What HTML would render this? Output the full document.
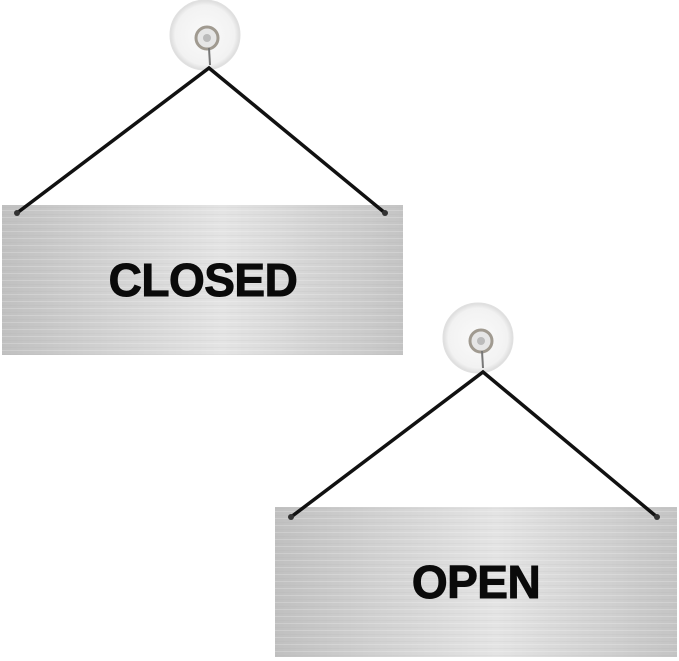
<!DOCTYPE html>
<html><head><meta charset="utf-8"><style>html,body{margin:0;padding:0;background:#fff;width:679px;height:661px;overflow:hidden}</style></head>
<body>
<svg width="679" height="661" viewBox="0 0 679 661" xmlns="http://www.w3.org/2000/svg">
<defs>
<linearGradient id="m" x1="0" y1="0" x2="1" y2="0">
<stop offset="0" stop-color="#c0c0c0"/>
<stop offset="0.3" stop-color="#d4d4d4"/>
<stop offset="0.55" stop-color="#e4e4e4"/>
<stop offset="0.8" stop-color="#d2d2d2"/>
<stop offset="1" stop-color="#c4c4c4"/>
</linearGradient>
<pattern id="l" width="6" height="7" patternUnits="userSpaceOnUse">
<rect width="6" height="1" fill="#ffffff" opacity="0.2"/>
<rect y="4" width="6" height="1" fill="#999" opacity="0.08"/>
</pattern>
<radialGradient id="c" cx="0.5" cy="0.5" r="0.5">
<stop offset="0" stop-color="#fafafa"/>
<stop offset="0.85" stop-color="#f2f2f2"/>
<stop offset="1" stop-color="#dcdcdc"/>
</radialGradient>
</defs>
<g>
<rect x="2" y="205" width="401" height="150" fill="url(#m)"/>
<rect x="2" y="205" width="401" height="150" fill="url(#l)"/>
<circle cx="205" cy="35" r="35" fill="url(#c)" stroke="#e0e0e0"/>
<circle cx="207" cy="38" r="11" fill="#e6e6e6" stroke="#a09a90" stroke-width="3"/>
<circle cx="207" cy="38" r="4" fill="#bbb"/>
<line x1="209" y1="48" x2="210" y2="65" stroke="#777" stroke-width="2"/>
<polyline points="17,213 209,68 385,213" fill="none" stroke="#111" stroke-width="3.5"/>
<circle cx="17" cy="213" r="3" fill="#333"/>
<circle cx="385" cy="213" r="3" fill="#333"/>
<text x="203" y="296" text-anchor="middle" font-family="Liberation Sans, sans-serif" font-weight="bold" font-size="46" fill="#0a0a0a" stroke="#0a0a0a" stroke-width="1" letter-spacing="-0.5">CLOSED</text>
</g>
<g>
<rect x="275" y="507" width="402" height="150" fill="url(#m)"/>
<rect x="275" y="507" width="402" height="150" fill="url(#l)"/>
<circle cx="478" cy="338" r="35" fill="url(#c)" stroke="#e0e0e0"/>
<circle cx="481" cy="341" r="11" fill="#e6e6e6" stroke="#a09a90" stroke-width="3"/>
<circle cx="481" cy="341" r="4" fill="#bbb"/>
<line x1="482" y1="351" x2="483" y2="368" stroke="#777" stroke-width="2"/>
<polyline points="291,517 483,372 657,517" fill="none" stroke="#111" stroke-width="3.5"/>
<circle cx="291" cy="517" r="3" fill="#333"/>
<circle cx="657" cy="517" r="3" fill="#333"/>
<text x="476" y="598" text-anchor="middle" font-family="Liberation Sans, sans-serif" font-weight="bold" font-size="46" fill="#0a0a0a" stroke="#0a0a0a" stroke-width="1" letter-spacing="-0.5">OPEN</text>
</g>
</svg>
</body></html>
